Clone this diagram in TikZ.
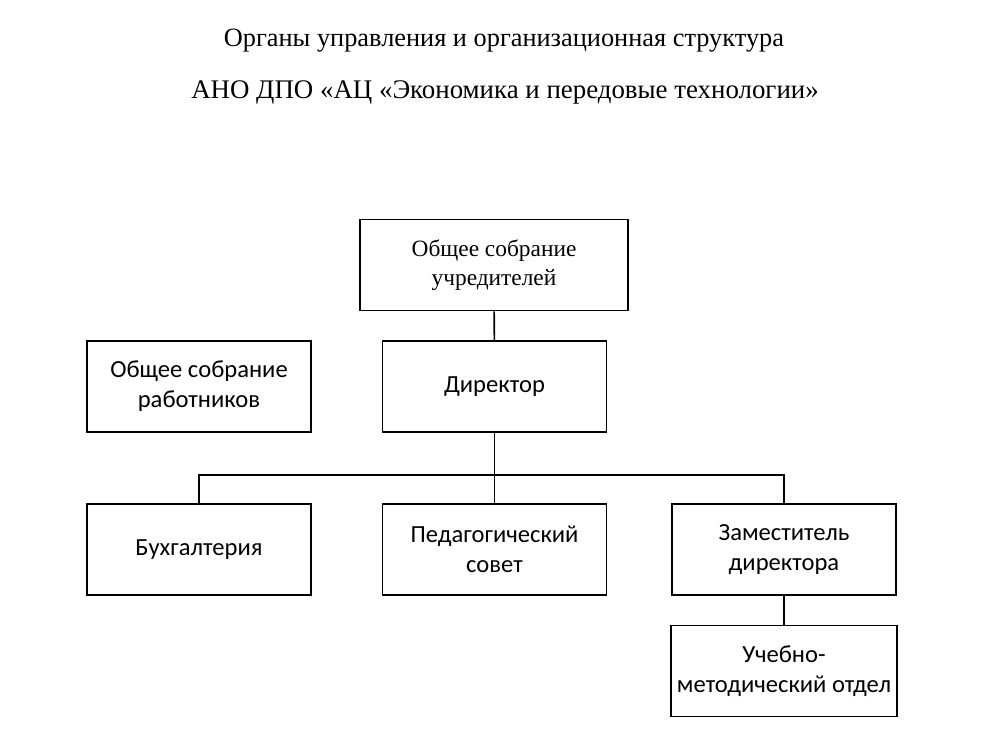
\documentclass[tikz,border=0pt]{standalone}
\usepackage{fontspec}
\setmainfont{Liberation Serif}
\newfontfamily\calibri{Carlito}
\tikzset{
  box/.style={draw, line width=0.9pt, minimum width=4.48cm, minimum height=1.82cm,
    align=center, font=\calibri\fontsize{14}{17}\selectfont},
  link/.style={line width=0.9pt}
}
\begin{document}
\begin{tikzpicture}[x=0.02cm,y=-0.02cm]
  \useasboundingbox (0,0) rectangle (984,750);
  \node (title1) at (504,41) {\fontsize{15}{18}\selectfont Органы управления и организационная структура};
  \node (title2) at (505,92) {\fontsize{15.3}{18}\selectfont АНО ДПО «АЦ «Экономика и передовые технологии»};
  \node[box, minimum width=5.36cm, font=\fontsize{13.3}{16.5}\selectfont] (uchr) at (494,265) {Общее собрание\\учредителей};
  \node[box] (dir) at (494.5,386.5) {Директор};
  \node[box] (rab) at (199,386.5) {Общее собрание\\работников};
  \node[box] (buh) at (199,549.5) {Бухгалтерия};
  \node[box] (ped) at (494.5,549.5) {Педагогический\\совет};
  \node[box] (zam) at (784,549.5) {Заместитель\\директора};
  \node[box] (umo) at (784,671) {Учебно-\\методический отдел};
  \coordinate (bus) at (494.5,475);
  \draw[link] (uchr) -- (dir);
  \draw[link] (dir) -- (bus);
  \draw[link] (buh.north) |- (bus) -| (zam.north);
  \draw[link] (ped) -- (bus);
  \draw[link] (zam) -- (umo);
\end{tikzpicture}
\end{document}
